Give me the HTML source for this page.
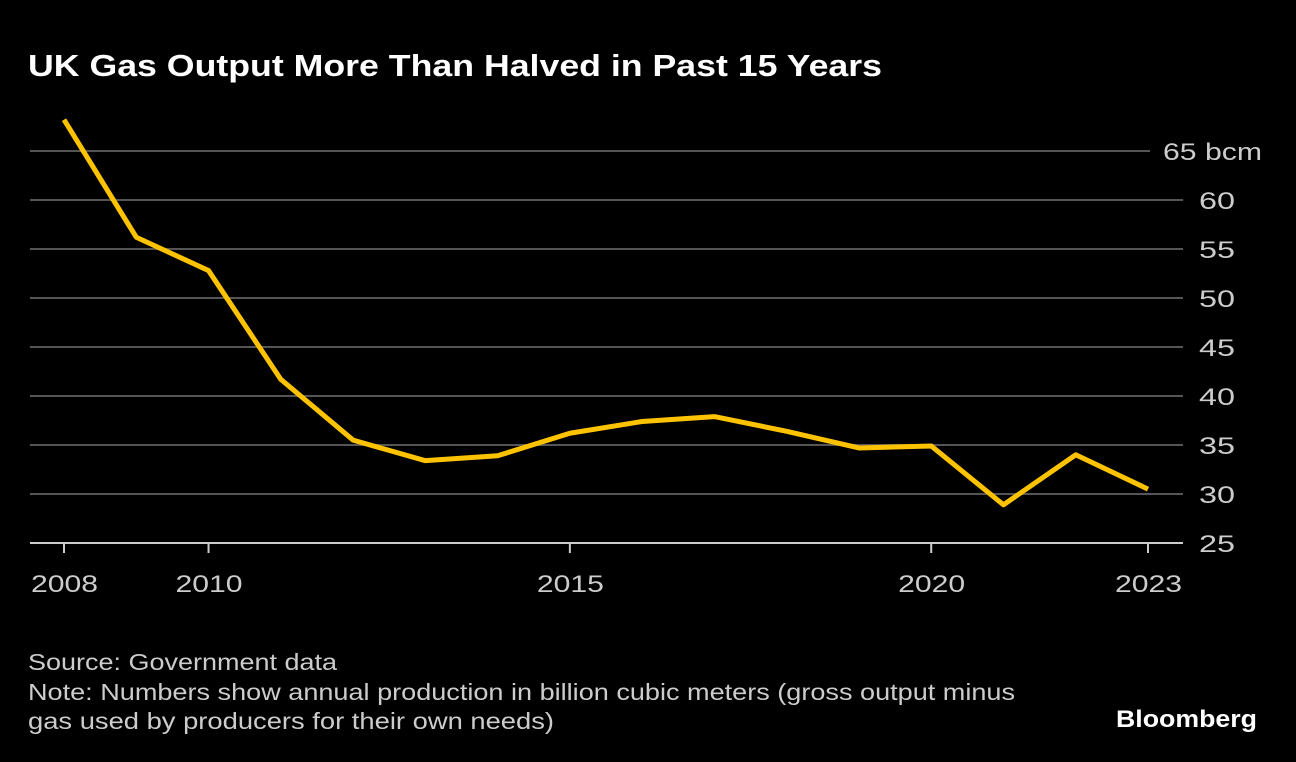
<!DOCTYPE html>
<html><head><meta charset="utf-8"><style>
body{margin:0;background:#000;width:1296px;height:762px;overflow:hidden;font-family:"Liberation Sans",sans-serif;}
</style></head><body>
<svg width="1296" height="762" style="position:absolute;left:0;top:0">
<text x="28" y="76" fill="#fff" font-size="31" font-weight="bold" textLength="854" lengthAdjust="spacingAndGlyphs">UK Gas Output More Than Halved in Past 15 Years</text>
<g id="grid"></g>
<g id="yl"></g>
<g id="xl"></g>
<path id="line" fill="none" stroke="#fdc300" stroke-width="5" stroke-linejoin="round"/>
<text x="28" y="670" fill="#ccc" font-size="23" textLength="309" lengthAdjust="spacingAndGlyphs">Source: Government data</text>
<text x="28" y="700" fill="#ccc" font-size="23" textLength="987" lengthAdjust="spacingAndGlyphs">Note: Numbers show annual production in billion cubic meters (gross output minus</text>
<text x="28" y="729" fill="#ccc" font-size="23" textLength="526" lengthAdjust="spacingAndGlyphs">gas used by producers for their own needs)</text>
<text x="1116" y="727" fill="#fff" font-size="24" font-weight="bold" textLength="141" lengthAdjust="spacingAndGlyphs">Bloomberg</text>
</svg>
<script>
const years=[2008,2009,2010,2011,2012,2013,2014,2015,2016,2017,2018,2019,2020,2021,2022,2023];
const values=[68.2,56.2,52.8,41.7,35.5,33.4,33.9,36.2,37.4,37.9,36.4,34.7,34.9,28.9,34.0,30.5];
const yTicks=[30,35,40,45,50,55,60,65];
const xTicks=[2008,2010,2015,2020,2023];
const NS="http://www.w3.org/2000/svg";
const x=v=>64+(v-2008)*(1148-64)/15;
const y=v=>543-(v-25)*9.8;
function mk(t,a,p){const e=document.createElementNS(NS,t);for(const k in a)e.setAttribute(k,a[k]);p.appendChild(e);return e;}
const g=document.getElementById('grid'),yl=document.getElementById('yl'),xl=document.getElementById('xl');
yTicks.forEach(v=>{
 const l=mk('line',{x1:30,x2:v===65?1150:1183,y1:y(v),y2:y(v),stroke:'#555','stroke-width':2},g);
 
 
 const t=mk('text',{x:v===65?1163:1199,y:y(v)+9,fill:'#ccc','font-size':24,textLength:v===65?99:36,lengthAdjust:'spacingAndGlyphs'},yl);
 t.textContent=v===65?'65 bcm':v;
 
 
});
const b=mk('line',{x1:30,x2:1183,y1:543,y2:543,stroke:'#ccc','stroke-width':2},g);


const t25=mk('text',{x:1199,y:552,fill:'#ccc','font-size':24,textLength:36,lengthAdjust:'spacingAndGlyphs'},yl);
t25.textContent='25';


xTicks.forEach(v=>{
 const tk=mk('line',{x1:x(v),x2:x(v),y1:543,y2:553,stroke:'#ccc','stroke-width':2},xl);
 
 
 const t=mk('text',{x:x(v)-33,y:592,fill:'#ccc','font-size':24,textLength:67,lengthAdjust:'spacingAndGlyphs'},xl);
 t.textContent=v;
 
 
});
document.getElementById('line').setAttribute('d',years.map((yr,i)=>(i?'L':'M')+x(yr)+','+y(values[i])).join(''));
</script>
</body></html>
